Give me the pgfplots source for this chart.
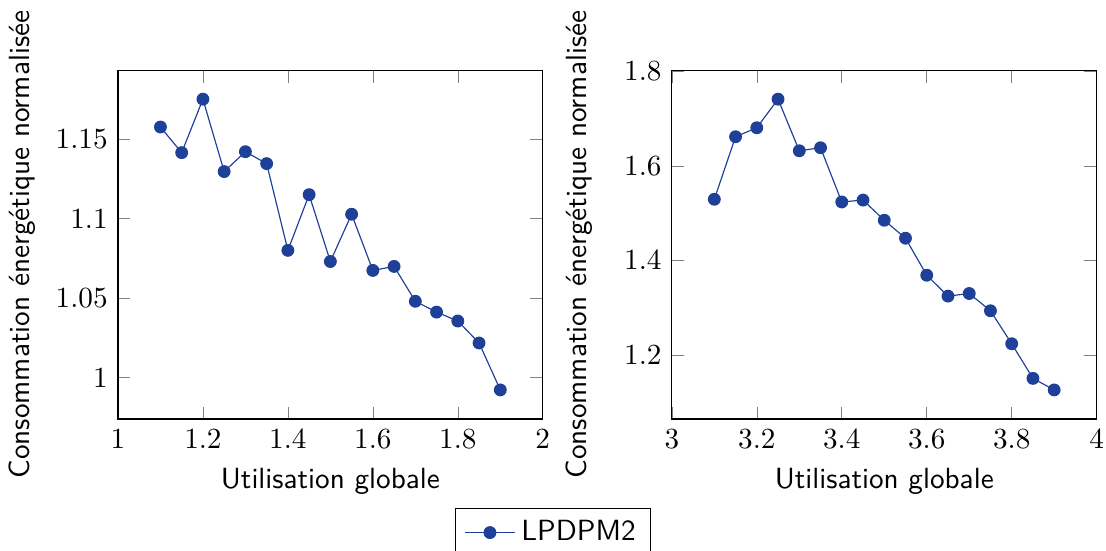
\documentclass[border=0pt]{standalone}
\usepackage{pgfplots}
\pgfplotsset{compat=1.18}
\definecolor{lblue}{RGB}{30,64,152}
\begin{document}
\begin{tikzpicture}
\pgfplotsset{
  every axis/.append style={
    scale only axis, width=145.5pt, height=119.5pt,
    label style={font=\sffamily},
    xlabel={Utilisation globale},
    ylabel={Consommation énergétique normalisée},
  }
}
\begin{axis}[name=left, xmin=1, xmax=2,
  xtick={1,1.2,1.4,1.6,1.8,2},
  ytick={1,1.05,1.1,1.15},
  yticklabels={1,1.05,1.1,1.15},
  legend style={at={(1.024,-0.255)}, anchor=north, font=\sffamily, legend columns=-1}]
\addplot[color=lblue, mark=*] coordinates {
(1.1,1.1575) (1.15,1.1414) (1.2,1.175) (1.25,1.1295) (1.3,1.142) (1.35,1.1345)
(1.4,1.080) (1.45,1.115) (1.5,1.073) (1.55,1.1027) (1.6,1.0674) (1.65,1.0699)
(1.7,1.048) (1.75,1.0412) (1.8,1.0356) (1.85,1.0218) (1.9,0.9923)};
\legend{LPDPM2}
\end{axis}
\begin{axis}[at={(left.south east)}, anchor=south west, xshift=44.2pt,
  xmin=3, xmax=4,
  xtick={3,3.2,3.4,3.6,3.8,4},
  ytick={1.2,1.4,1.6,1.8},
  ylabel style={yshift=4pt}]
\addplot[color=lblue, mark=*] coordinates {
(3.1,1.5297) (3.15,1.662) (3.2,1.681) (3.25,1.7415) (3.3,1.6323) (3.35,1.6387)
(3.4,1.524) (3.45,1.528) (3.5,1.4853) (3.55,1.4473) (3.6,1.369) (3.65,1.3248)
(3.7,1.3303) (3.75,1.2938) (3.8,1.224) (3.85,1.1507) (3.9,1.1263)};
\end{axis}
\pgfresetboundingbox
\path[use as bounding box] ([xshift=-40.4pt,yshift=-45.2pt]left.south west)
  rectangle ([xshift=338.4pt,yshift=143.5pt]left.south west);
\end{tikzpicture}
\end{document}
